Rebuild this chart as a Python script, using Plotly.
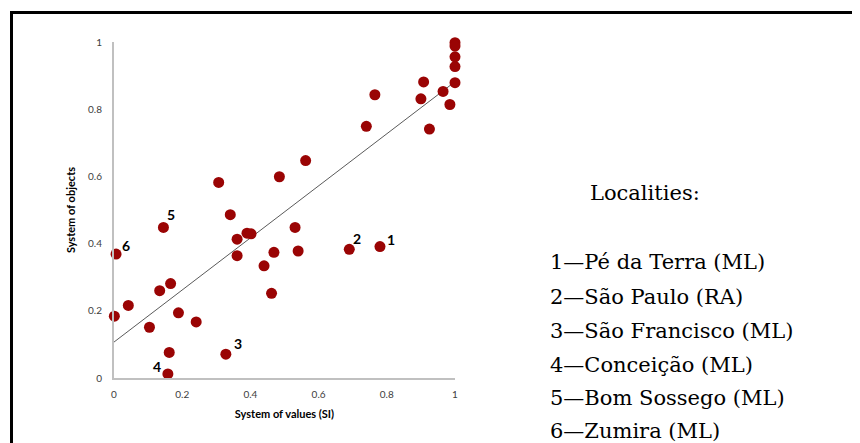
import plotly.graph_objects as go

# Data
values_si = [1.0, 1.0, 1.0, 1.0, 1.0, 0.908, 0.765, 0.9, 0.965, 0.985, 0.74, 0.925,
             0.562, 0.485, 0.307, 0.341, 0.145, 0.531, 0.39, 0.402, 0.361, 0.69,
             0.78, 0.006, 0.469, 0.54, 0.361, 0.44, 0.166, 0.134, 0.462, 0.042,
             0.001, 0.189, 0.104, 0.241, 0.162, 0.328, 0.158]
objects = [0.998, 0.988, 0.956, 0.927, 0.879, 0.881, 0.843, 0.831, 0.853, 0.814, 0.749, 0.741,
           0.647, 0.599, 0.582, 0.486, 0.448, 0.448, 0.431, 0.429, 0.413, 0.383,
           0.391, 0.369, 0.374, 0.378, 0.364, 0.334, 0.281, 0.26, 0.252, 0.216,
           0.184, 0.194, 0.151, 0.167, 0.076, 0.071, 0.012]

trend_x = [0.0, 0.99]
trend_y = [0.107, 0.874]

# labelled localities: label -> index in the arrays above
label_names = ["1", "2", "3", "4", "5", "6"]
label_index = [22, 21, 37, 38, 16, 23]
label_shift = [(11, 7), (8, 11), (12, 11), (-11, 7), (8, 13), (10, 9)]

legend_title = "Localities:"
legend_items = ["1\u2014Pé da Terra (ML)", "2\u2014São Paulo (RA)", "3\u2014São Francisco (ML)",
                "4\u2014Conceição (ML)", "5\u2014Bom Sossego (ML)", "6\u2014Zumira (ML)"]

tick_vals = [0, 0.2, 0.4, 0.6, 0.8, 1]
tick_text = ["0", "0.2", "0.4", "0.6", "0.8", "1"]

# the page body adds an 8 px offset, so work in reference pixels minus OFF
OFF = 8
W, H = 860 - OFF, 443 - OFF
L, R, T, B = 114 - OFF, 455 - OFF, 42 - OFF, 378 - OFF


def px(x):
    return (x - OFF - L) / (R - L)


def py(y):
    return (B - (y - OFF)) / (B - T)


fig = go.Figure()
fig.add_trace(go.Scatter(x=trend_x, y=trend_y, mode="lines",
                         line=dict(color="#5a5a5a", width=1), hoverinfo="skip"))
fig.add_trace(go.Scatter(x=values_si, y=objects, mode="markers",
                         marker=dict(color="#9a0404", size=11), cliponaxis=False))

for name, idx, (dx, dy) in zip(label_names, label_index, label_shift):
    fig.add_annotation(x=values_si[idx], y=objects[idx], text="<b>%s</b>" % name,
                       showarrow=False, xshift=dx, yshift=dy,
                       font=dict(family="Lato", size=14, color="#000000"))

serif = dict(family="DejaVu Serif", size=21, color="#000000")
fig.add_annotation(xref="paper", yref="paper", x=px(588), y=py(193), text=legend_title,
                   showarrow=False, xanchor="left", yanchor="middle", font=serif)
item_y = [262, 296.5, 330.5, 364.5, 398.5, 430.5]
for t, yy in zip(legend_items, item_y):
    fig.add_annotation(xref="paper", yref="paper", x=px(548), y=py(yy), text=t,
                       showarrow=False, xanchor="left", yanchor="middle", font=serif)

# frame lines (left and top)
fig.add_shape(type="line", xref="paper", yref="paper", x0=px(11.5), x1=px(11.5),
              y0=py(11), y1=py(443), line=dict(color="#000000", width=3))
fig.add_shape(type="line", xref="paper", yref="paper", x0=px(10), x1=px(860),
              y0=py(12.5), y1=py(12.5), line=dict(color="#000000", width=3))

axis_font = dict(family="Lato", size=10, color="#404040")
fig.update_xaxes(range=[0, 1], tickvals=tick_vals, ticktext=tick_text, showgrid=False,
                 zeroline=False, showline=True, linecolor="#c0c0c0", linewidth=2,
                 ticks="", tickfont=axis_font, ticklabelstandoff=6,
                 title=dict(text="<b>System of values (SI)</b>", standoff=11,
                            font=dict(family="Lato", size=11, color="#000000")))
fig.update_yaxes(range=[0, 1], tickvals=tick_vals, ticktext=tick_text, showgrid=False,
                 zeroline=False, showline=True, linecolor="#c0c0c0", linewidth=2,
                 ticks="", tickfont=axis_font, ticklabelstandoff=8,
                 title=dict(text="<b>System of objects</b>", standoff=10,
                            font=dict(family="Lato", size=11, color="#000000")))

fig.update_layout(width=W, height=H, showlegend=False,
                  margin=dict(l=L, r=W - R, t=T, b=H - B, autoexpand=False),
                  paper_bgcolor="white", plot_bgcolor="white")

fig.write_html("out.html")
